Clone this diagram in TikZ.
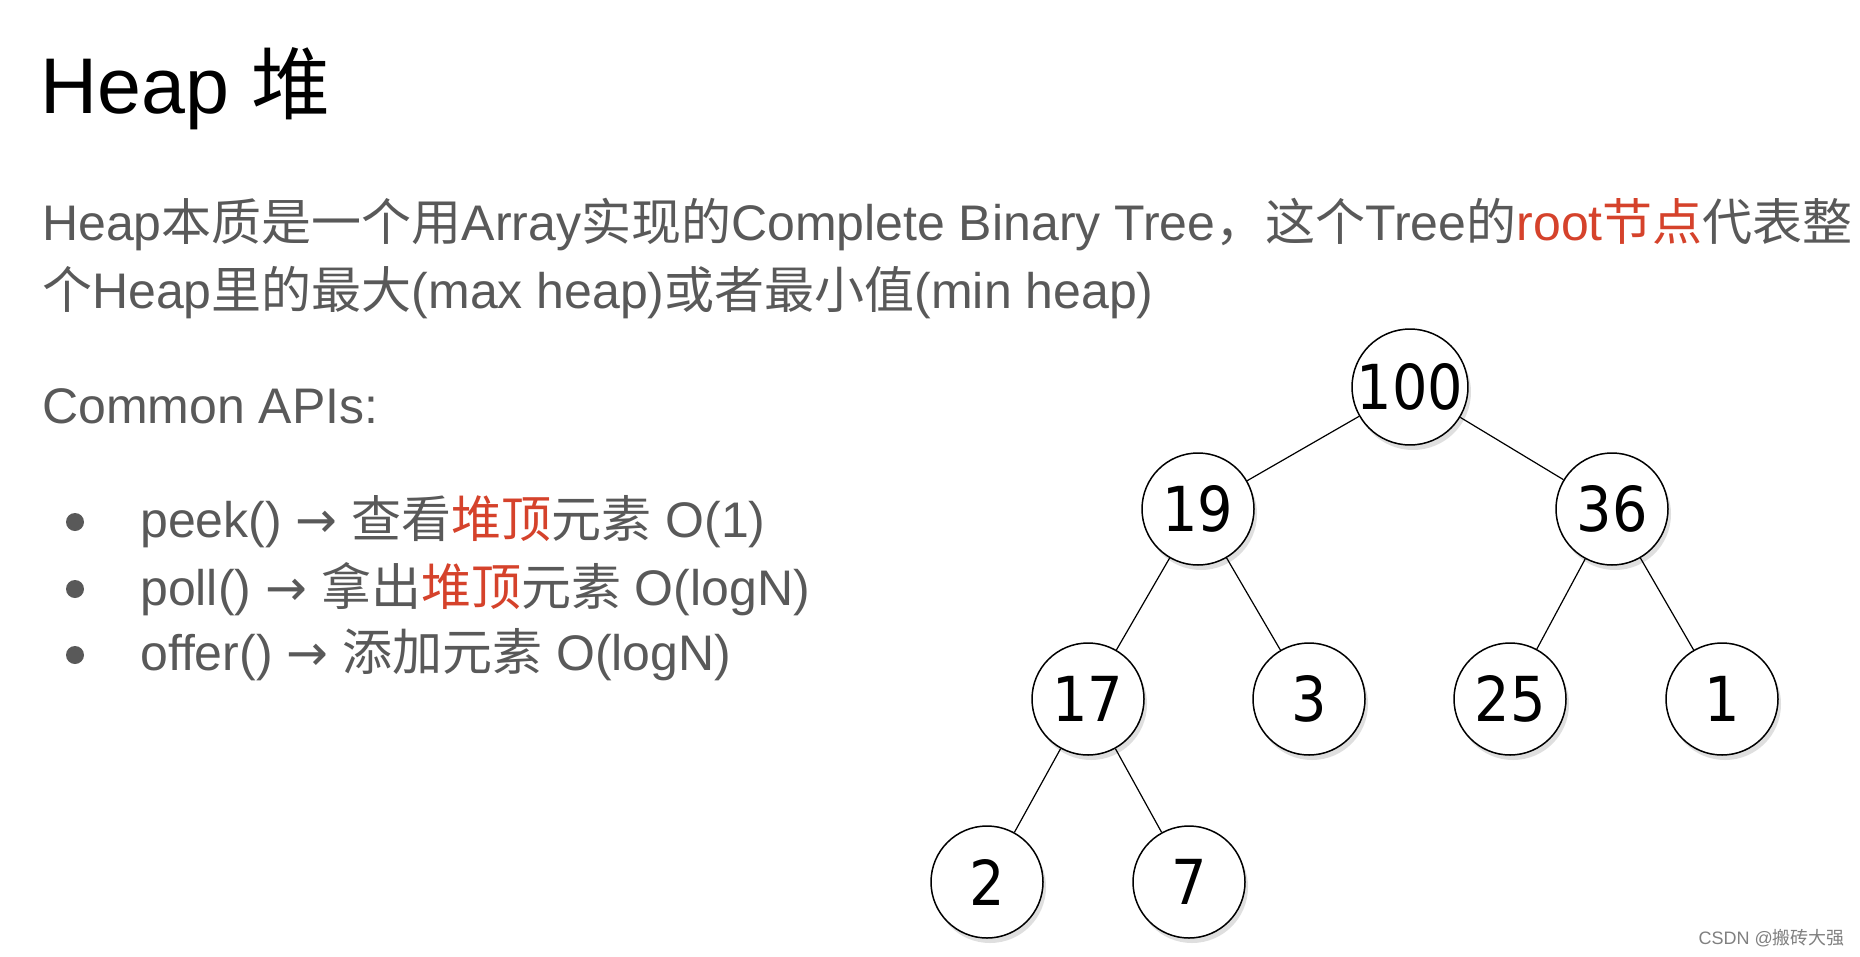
\documentclass[tikz,border=0pt]{standalone}
\usepackage{fontspec}
\setmainfont{Liberation Sans}
\newfontfamily\cjk{Noto Sans CJK SC}
\newfontfamily\arrf{DejaVu Sans}
\newfontfamily\numf{DejaVu Sans Condensed}
\usetikzlibrary{shadows}
\definecolor{txt}{HTML}{595959}
\definecolor{hl}{HTML}{D5422B}
\begin{document}
\begin{tikzpicture}[x=1pt,y=-1pt,
  hn/.style={circle,draw=black,line width=1.5pt,fill=white,minimum size=112pt,inner sep=0pt,
    font=\numf\fontsize{62}{62}\selectfont,drop shadow={shadow xshift=3pt,shadow yshift=-5pt,opacity=0.25}},
  ed/.style={line width=1.2pt},
  body/.style={anchor=west,inner sep=0pt,text=txt,font=\fontsize{50}{50}\selectfont}]
\fill[white] (0,0) rectangle (1860,956);
\node[anchor=west,inner sep=0pt,font=\fontsize{79}{79}\selectfont] (title) at (40,89) {Heap {\cjk 堆}};
\node[body] (l1) at (42,225) {Heap{\cjk 本质是一个用}Array{\cjk 实现的}Complete Binary Tree{\cjk ，这个}Tree{\cjk 的}\textcolor{hl}{root{\cjk 节点}}{\cjk 代表整}};
\node[body] (l2) at (42,293) {{\cjk 个}Heap{\cjk 里的最大}(max heap){\cjk 或者最小值}(min heap)};
\node[body] (api) at (42,406) {Common APIs:};
\foreach \yy in {522,589,655}{\fill[txt] (75,\yy) circle (9);}
\node[body] (a1) at (140,522) {peek() {\arrf →} {\cjk 查看\textcolor{hl}{堆顶}元素} O(1)};
\node[body] (a2) at (140,589) {poll() {\arrf →} {\cjk 拿出\textcolor{hl}{堆顶}元素} O(logN)};
\node[body] (a3) at (140,655) {offer() {\arrf →} {\cjk 添加元素} O(logN)};
\node[hn] (n100) at (1410,387) {100};
\node[hn] (n19) at (1198,509) {19};
\node[hn] (n36) at (1612,509) {36};
\node[hn] (n17) at (1088,699) {17};
\node[hn] (n3) at (1309,699) {3};
\node[hn] (n25) at (1510,699) {25};
\node[hn] (n1) at (1722,699) {1};
\node[hn] (n2) at (987,882) {2};
\node[hn] (n7) at (1189,882) {7};
\draw[ed] (n100) -- (n19); \draw[ed] (n100) -- (n36);
\draw[ed] (n19) -- (n17); \draw[ed] (n19) -- (n3);
\draw[ed] (n36) -- (n25); \draw[ed] (n36) -- (n1);
\draw[ed] (n17) -- (n2); \draw[ed] (n17) -- (n7);
\node[anchor=east,inner sep=0pt,text=gray,font=\fontsize{18}{18}\selectfont] (wm) at (1845,938) {CSDN @{\cjk 搬砖大强}};
\end{tikzpicture}
\end{document}
